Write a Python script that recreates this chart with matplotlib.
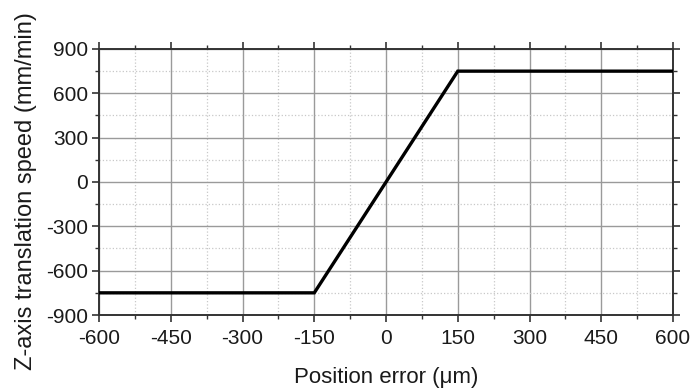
import numpy as np
import matplotlib.pyplot as plt
from matplotlib.ticker import MultipleLocator

# speed command vs position error (saturated proportional law)
position_error = [-600, -150, 150, 600]
z_speed = [-750, -750, 750, 750]

x_ticks = [-600, -450, -300, -150, 0, 150, 300, 450, 600]
y_ticks = [-900, -600, -300, 0, 300, 600, 900]

plt.rcParams['font.family'] = ['Liberation Sans', 'DejaVu Sans']
plt.rcParams['axes.unicode_minus'] = False

fig = plt.figure(figsize=(6.92, 3.9), dpi=100)
ax = fig.add_axes([0.1431, 0.1923, 0.8295, 0.6821])

ax.plot(position_error, z_speed, color='black', linewidth=2.4, solid_joinstyle='miter', zorder=3)

ax.set_xlim(-600, 600)
ax.set_ylim(-900, 900)
ax.set_xticks(x_ticks)
ax.set_yticks(y_ticks)
ax.xaxis.set_minor_locator(MultipleLocator(75))
ax.yaxis.set_minor_locator(MultipleLocator(150))

ax.grid(which='major', color='#9a9a9a', linestyle='-', linewidth=1.0)
ax.grid(which='minor', color='#c8c8c8', linestyle=':', linewidth=0.9)

ax.tick_params(which='both', direction='out', top=True, right=True,
               labeltop=False, labelright=False, colors='#333333', labelcolor='#1a1a1a')
ax.tick_params(which='major', length=5, width=1.2, labelsize=15)
ax.tick_params(axis='x', which='major', pad=5)
ax.tick_params(axis='y', which='major', pad=3)
ax.tick_params(which='minor', length=3, width=1.0)

for spine in ax.spines.values():
    spine.set_color('#333333')
    spine.set_linewidth(1.4)

ax.set_xlabel('Position error (\u03bcm)', fontsize=16, color='#1a1a1a')
ax.set_ylabel('Z-axis translation speed (mm/min)', fontsize=17, color='#1a1a1a')
ax.xaxis.set_label_coords(0.5, -0.197)
ax.yaxis.set_label_coords(-0.108, 0.466)

fig.savefig('out.png', dpi=100)
